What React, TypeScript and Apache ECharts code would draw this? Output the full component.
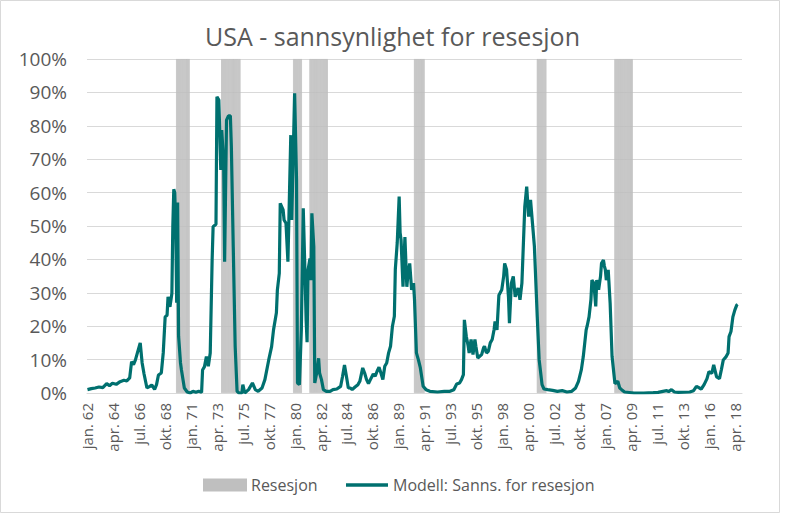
import React, { useEffect, useRef } from "react";
import * as echarts from "echarts";

// Month labels (Norwegian abbreviations)
const MONTHS = ["jan.", "feb.", "mar.", "apr.", "mai", "jun.", "jul.", "aug.", "sep.", "okt.", "nov.", "des."];
const START_YEAR = 1962;
const MONTH_COUNT = 683; // jan. 62 .. nov. 18

const TITLE = "USA - sannsynlighet for resesjon";
const SERIES_RECESSION = "Resesjon";
const SERIES_MODEL = "Modell: Sanns. for resesjon";

// Recession periods (start month, end month)
const recessions: [string, string][] = [
  ["1969-10", "1970-11"],
  ["1973-09", "1975-04"],
  ["1979-12", "1980-08"],
  ["1981-05", "1982-11"],
  ["1990-06", "1991-04"],
  ["2001-02", "2001-11"],
  ["2007-11", "2009-05"],
];

// Model probability (%): [months since jan. 1962, value]
const model1960s: [number, number][] = [
  [0, 1.0], [4, 1.3], [8, 1.5], [12, 1.8], [16, 1.6], [20, 2.8], [23, 2.2], [26, 2.9], [30, 2.6],
  [34, 3.4], [38, 3.8], [41, 3.6], [44, 4.5], [46, 9.4], [48, 8.5], [50, 9.9], [53, 13.0], [55, 15.0],
  [57, 9.0], [59, 5.7], [62, 1.5], [65, 2.0], [67, 2.4], [70, 1.1], [72, 2.5], [74, 5.4], [77, 6.0],
  [79, 12.0], [81, 22.8], [83, 23.3], [84, 28.8], [86, 25.8], [88, 29.8], [89, 50.0], [90, 61.0],
  [91, 60.0], [92, 50.0], [93, 27.0], [94, 57.0], [95, 17.0], [97, 9.0], [98, 6.9], [101, 1.5],
  [104, 0.3], [107, 0.0], [110, 0.5], [113, 0.2], [116, 0.5], [119, 0.2],
];
const model1970s: [number, number][] = [
  [120, 6.9], [122, 7.9], [124, 10.9], [126, 8.0], [128, 12.0], [130, 40.0], [131, 49.8], [134, 50.5],
  [135, 88.7], [137, 87.7], [139, 66.8], [140, 78.7], [142, 69.0], [143, 39.3], [145, 81.7], [147, 83.0],
  [149, 83.0], [150, 74.0], [152, 43.8], [154, 14.0], [156, 0.5], [158, 0.0], [161, 0.0], [162, 2.5],
  [164, 0.0], [168, 1.0], [172, 3.0], [175, 1.0], [178, 0.5], [182, 1.5], [185, 4.0], [189, 9.9],
  [192, 13.9], [194, 18.9], [197, 24.0], [198, 30.8], [200, 35.8], [201, 56.8], [204, 54.8],
  [205, 51.8], [207, 50.8], [209, 39.3], [210, 51.8], [212, 77.2], [213, 51.8], [216, 89.7],
  [218, 63.8], [219, 3.0], [221, 2.5], [223, 18.9], [225, 55.3], [227, 33.8], [228, 21.8], [229, 15.2],
  [230, 36.8], [232, 40.3], [233, 33.8], [234, 53.8], [236, 43.8], [237, 3.0], [239, 6.0],
];
const model1980s: [number, number][] = [
  [241, 10.4], [242, 6.0], [244, 4.0], [246, 1.0], [249, 0.5], [253, 0.5], [256, 1.0], [260, 1.2],
  [264, 2.0], [266, 5.0], [268, 8.4], [270, 5.0], [272, 1.5], [274, 1.5], [276, 1.0], [279, 1.8],
  [282, 2.5], [284, 3.5], [287, 7.5], [289, 6.0], [291, 4.0], [293, 2.8], [295, 4.0], [298, 5.7],
  [300, 5.0], [302, 6.5], [304, 7.7], [306, 6.0], [308, 4.0], [310, 8.0], [312, 9.0], [314, 12.0],
  [316, 14.0], [318, 20.0], [320, 23.0], [321, 37.0], [323, 45.0], [325, 58.8], [326, 48.0],
  [327, 45.8], [329, 31.8], [331, 46.7], [333, 31.8], [334, 35.0], [336, 38.8], [338, 30.9],
  [340, 32.9], [341, 28.0], [343, 12.0], [345, 10.0], [347, 7.7], [350, 2.0], [353, 1.0], [357, 0.5],
];
const model1990s: [number, number][] = [
  [365, 0.3], [372, 0.5], [378, 0.5], [382, 1.0], [385, 2.7], [388, 3.0], [390, 4.0], [392, 5.5],
  [393, 21.9], [395, 17.0], [397, 14.0], [398, 12.0], [400, 16.0], [402, 11.5], [404, 16.0],
  [405, 14.0], [407, 10.5], [409, 11.0], [411, 11.5], [413, 13.5], [414, 14.0], [416, 12.0],
  [418, 12.5], [420, 15.0], [422, 16.0], [424, 19.0], [425, 21.4], [427, 18.9], [429, 29.3],
  [432, 30.9], [434, 35.0], [435, 38.8], [437, 36.9], [439, 28.8], [440, 20.9], [442, 32.9],
  [444, 34.9], [446, 28.8], [449, 31.4], [451, 27.9], [453, 32.9], [456, 55.8], [458, 61.8],
  [460, 52.8], [462, 57.8], [464, 50.9], [466, 44.0], [469, 22.8], [471, 9.9], [474, 2.5], [476, 1.2],
];
const model2000s: [number, number][] = [
  [480, 1.0], [485, 0.8], [490, 0.5], [495, 0.7], [500, 0.3], [505, 0.5], [509, 1.5], [512, 3.5],
  [515, 7.0], [517, 10.9], [520, 18.9], [521, 20.0], [523, 22.8], [525, 28.0], [526, 33.8],
  [528, 32.9], [530, 25.9], [531, 33.8], [533, 30.9], [535, 35.0], [536, 38.8], [538, 39.8],
  [539, 38.0], [540, 36.9], [541, 33.8], [543, 36.9], [545, 26.9], [547, 11.0], [550, 2.8],
  [553, 3.5], [555, 1.5], [557, 1.0], [560, 0.3], [570, 0.0], [580, 0.0], [590, 0.1], [595, 0.2],
];
const model2010s: [number, number][] = [
  [600, 0.5], [604, 0.7], [606, 0.4], [609, 1.0], [612, 0.3], [616, 0.2], [628, 0.3], [632, 0.7],
  [635, 2.0], [638, 1.5], [640, 1.2], [643, 2.5], [646, 4.3], [648, 6.4], [651, 5.9], [653, 8.4],
  [656, 4.8], [659, 4.3], [661, 7.0], [663, 9.9], [666, 10.9], [668, 12.0], [669, 16.9], [671, 18.4],
  [673, 22.8], [675, 24.8], [677, 26.3], [678, 26.5],
];

const FONT = "'Open Sans', sans-serif";
const TEXT_COLOR = "#595959";
const GRID_COLOR = "#d9d9d9";
const LINE_COLOR = "#00706f";
const REC_COLOR = "#bfbfbf";

function monthIndex(s: string): number {
  const [y, m] = s.split("-").map(Number);
  return (y - START_YEAR) * 12 + (m - 1);
}

export default function App() {
  const ref = useRef<HTMLDivElement>(null);

  useEffect(() => {
    if (!ref.current) return;
    const chart = echarts.init(ref.current, undefined, { renderer: "svg" });

    const categories: string[] = [];
    for (let i = 0; i < MONTH_COUNT; i++) {
      const y = START_YEAR + Math.floor(i / 12);
      categories.push(`${MONTHS[i % 12]} ${String(y % 100).padStart(2, "0")}`);
    }

    const recIdx = recessions.map(([a, b]) => [monthIndex(a), monthIndex(b)]);
    const recData = categories.map((_, i) =>
      recIdx.some(([a, b]) => i >= a && i <= b) ? 100 : null
    );

    const modelData: (number | null)[] = new Array(MONTH_COUNT).fill(null);
    [...model1960s, ...model1970s, ...model1980s, ...model1990s, ...model2000s, ...model2010s].forEach(
      ([i, v]) => {
        modelData[i] = v;
      }
    );

    const legendText = { fontFamily: FONT, fontSize: 16, color: TEXT_COLOR };

    chart.setOption({
      animation: false,
      title: {
        text: TITLE,
        left: "center",
        top: 18,
        textStyle: { fontFamily: FONT, fontSize: 25, fontWeight: "normal", color: TEXT_COLOR },
      },
      grid: { left: 87, right: 43, top: 59, bottom: 121 },
      legend: [
        {
          left: 198,
          top: 472,
          itemWidth: 42,
          itemHeight: 11,
          textStyle: legendText,
          data: [{ name: SERIES_RECESSION, icon: "rect" }],
        },
        {
          left: 341,
          top: 472,
          itemWidth: 42,
          itemHeight: 3.5,
          textStyle: legendText,
          data: [{ name: SERIES_MODEL, icon: "rect", itemStyle: { color: LINE_COLOR } }],
        },
      ],
      xAxis: {
        type: "category",
        data: categories,
        boundaryGap: true,
        axisLine: { lineStyle: { color: GRID_COLOR, width: 1 } },
        axisTick: { show: false },
        axisLabel: {
          interval: 26,
          rotate: 90,
          margin: 10,
          fontFamily: FONT,
          fontSize: 15,
          color: TEXT_COLOR,
        },
        splitLine: { show: false },
      },
      yAxis: {
        type: "value",
        min: 0,
        max: 100,
        interval: 10,
        axisLine: { show: false },
        axisTick: { show: false },
        axisLabel: {
          formatter: "{value}%",
          margin: 20,
          fontFamily: FONT,
          fontSize: 19,
          color: TEXT_COLOR,
        },
        splitLine: { lineStyle: { color: GRID_COLOR, width: 1 } },
      },
      graphic: [
        {
          type: "rect",
          shape: { x: 0.5, y: 0.5, width: 779, height: 512 },
          style: { fill: "none", stroke: GRID_COLOR, lineWidth: 1 },
          silent: true,
        },
      ],
      series: [
        {
          name: SERIES_RECESSION,
          type: "bar",
          data: recData,
          barCategoryGap: "0%",
          barGap: "0%",
          itemStyle: { color: REC_COLOR, borderColor: REC_COLOR, borderWidth: 0.5 },
          z: 1,
        },
        {
          name: SERIES_MODEL,
          type: "line",
          data: modelData,
          connectNulls: true,
          showSymbol: false,
          symbol: "none",
          lineStyle: { color: LINE_COLOR, width: 3.2 },
          itemStyle: { color: LINE_COLOR },
          z: 3,
        },
      ],
    });

    return () => chart.dispose();
  }, []);

  return (
    <div
      ref={ref}
      style={{ position: "fixed", left: 0, top: 0, width: 785, height: 514, background: "#fff" }}
    />
  );
}
